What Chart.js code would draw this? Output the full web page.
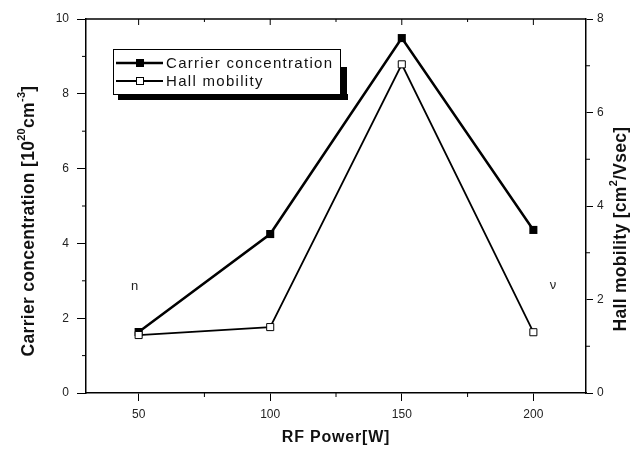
<!DOCTYPE html>
<html><head><meta charset="utf-8">
<script src="https://cdn.jsdelivr.net/npm/chart.js@4/dist/chart.umd.min.js"></script>
<style>html,body{margin:0;padding:0;background:#fff}#wrap{width:644px;height:455px}</style>
</head><body><div id="wrap"><canvas id="c" width="644" height="455"></canvas></div>
<script>
const rfPower = [50, 100, 150, 200];
const carrierConcentration = [1.63, 4.25, 9.49, 4.36];
const hallMobility = [1.24, 1.41, 7.03, 1.30];
const xTicks = [50, 100, 150, 200];
const xMinorTicks = [75, 125, 175];
const leftTicks = [0, 2, 4, 6, 8, 10];
const leftMinorTicks = [1, 3, 5, 7, 9];
const rightTicks = [0, 2, 4, 6, 8];
const rightMinorTicks = [1, 3, 5, 7];
const seriesLabels = ['Carrier concentration', 'Hall mobility'];
const xTitle = 'RF Power[W]';
const leftTitle = [['Carrier concentration [10', 0], ['20', 1], ['cm', 0], ['-3', 1], [']', 0]];
const rightTitle = [['Hall mobility [cm', 0], ['2', 1], ['/Vsec]', 0]];
const strayLabels = [['n', 50, 2.85], ['\u03bd', 209, 2.88]];

const FONT = '"Liberation Sans", Arial, sans-serif';

function drawRich(ctx, parts, size, bold, cx, cy, rot, spacing) {
  ctx.save();
  ctx.translate(cx, cy);
  ctx.rotate(rot);
  const w = (s, sup) => {
    ctx.font = (bold ? 'bold ' : '') + (sup ? Math.round(size * 0.62) : size) + 'px ' + FONT;
    ctx.letterSpacing = spacing + 'px';
    return ctx.measureText(s).width;
  };
  let total = 0;
  parts.forEach(p => total += w(p[0], p[1]));
  let x = -total / 2;
  ctx.fillStyle = '#111';
  ctx.textBaseline = 'middle';
  ctx.textAlign = 'left';
  parts.forEach(p => {
    const ww = w(p[0], p[1]);
    ctx.fillText(p[0], x, p[1] ? -size * 0.42 : 0);
    x += ww;
  });
  ctx.restore();
}

const decor = {
  id: 'decor',
  afterDraw(chart) {
    const ctx = chart.ctx;
    const a = chart.chartArea;
    const sx = chart.scales.x, sy = chart.scales.y, sy1 = chart.scales.y1;
    ctx.save();
    ctx.strokeStyle = '#000';
    ctx.lineWidth = 1.5;
    ctx.beginPath(); ctx.moveTo(a.left, a.top); ctx.lineTo(a.right, a.top); ctx.stroke();
    ctx.lineWidth = 1;
    ctx.beginPath();
    xMinorTicks.forEach(v => { const px = sx.getPixelForValue(v); ctx.moveTo(px, a.bottom); ctx.lineTo(px, a.bottom + 4); ctx.moveTo(px, a.top); ctx.lineTo(px, a.top + 3); });
    xTicks.forEach(v => { const px = sx.getPixelForValue(v); ctx.moveTo(px, a.top); ctx.lineTo(px, a.top + 6); });
    leftMinorTicks.forEach(v => { const py = sy.getPixelForValue(v); ctx.moveTo(a.left, py); ctx.lineTo(a.left - 4, py); });
    rightMinorTicks.forEach(v => { const py = sy1.getPixelForValue(v); ctx.moveTo(a.right, py); ctx.lineTo(a.right + 4, py); });
    ctx.stroke();

    const lx = 113, ly = 49, lw = 227, lh = 45;
    ctx.fillStyle = '#000';
    ctx.fillRect(lx + 5, ly + lh, lw + 3, 6);
    ctx.fillRect(lx + lw, ly + 18, 7, lh - 12);
    ctx.fillStyle = '#fff';
    ctx.fillRect(lx, ly, lw, lh);
    ctx.lineWidth = 1;
    ctx.strokeRect(lx + 0.5, ly + 0.5, lw, lh);
    const rows = [[63, true], [81, false]];
    rows.forEach((r, i) => {
      const y = r[0];
      ctx.lineWidth = i === 0 ? 2.5 : 1.8;
      ctx.beginPath(); ctx.moveTo(116, y); ctx.lineTo(163, y); ctx.stroke();
      if (r[1]) { ctx.fillStyle = '#000'; ctx.fillRect(136, y - 4, 8, 8); }
      else { ctx.fillStyle = '#fff'; ctx.fillRect(136, y - 3.5, 7, 7); ctx.lineWidth = 1; ctx.strokeRect(136.5, y - 3.5, 7, 7); }
      ctx.fillStyle = '#111';
      ctx.font = '15px ' + FONT;
      ctx.letterSpacing = '1.3px';
      ctx.textBaseline = 'middle';
      ctx.textAlign = 'left';
      ctx.fillText(seriesLabels[i], 166, y + 1);
    });
    ctx.letterSpacing = '0px';

    ctx.fillStyle = '#222';
    ctx.font = '13px ' + FONT;
    ctx.textAlign = 'center';
    ctx.textBaseline = 'middle';
    strayLabels.forEach(s => {
      ctx.fillText(s[0], sx.getPixelForValue(s[1]) - 4, sy.getPixelForValue(s[2]));
    });

    drawRich(ctx, [[xTitle, 0]], 16, true, 336, 438, 0, 0.8);
    drawRich(ctx, leftTitle, 17.5, true, 29, 221, -Math.PI / 2, 0.3);
    drawRich(ctx, rightTitle, 17.5, true, 621, 229, -Math.PI / 2, 0.3);
    ctx.restore();
  }
};

const tickFont = { family: FONT, size: 12 };
new Chart(document.getElementById('c'), {
  type: 'line',
  data: {
    datasets: [
      {
        label: seriesLabels[0],
        data: rfPower.map((x, i) => ({ x, y: carrierConcentration[i] })),
        yAxisID: 'y',
        borderColor: '#000', borderWidth: 2.5,
        pointStyle: 'rect', pointRadius: 5.7, pointBackgroundColor: '#000', pointBorderColor: '#000', pointBorderWidth: 0,
        order: 2, tension: 0
      },
      {
        label: seriesLabels[1],
        data: rfPower.map((x, i) => ({ x, y: hallMobility[i] })),
        yAxisID: 'y1',
        borderColor: '#000', borderWidth: 1.8,
        pointStyle: 'rect', pointRadius: 5, pointBackgroundColor: '#fff', pointBorderColor: '#000', pointBorderWidth: 1,
        order: 1, tension: 0
      }
    ]
  },
  options: {
    responsive: false,
    animation: false,
    devicePixelRatio: 1,
    layout: { padding: { top: 19, left: 0, right: 0, bottom: 0 } },
    plugins: { legend: { display: false }, tooltip: { enabled: false } },
    scales: {
      x: {
        type: 'linear', position: 'bottom', min: 30, max: 220,
        afterBuildTicks: s => { s.ticks = xTicks.map(v => ({ value: v })); },
        afterFit: s => { s.height = 62; },
        ticks: { font: tickFont, color: '#222', padding: 6, maxRotation: 0 },
        grid: { drawOnChartArea: false, tickLength: 8, tickColor: '#000', tickWidth: 1 },
        border: { color: '#000', width: 1.5 }
      },
      y: {
        type: 'linear', position: 'left', min: 0, max: 10,
        afterBuildTicks: s => { s.ticks = leftTicks.map(v => ({ value: v })); },
        afterFit: s => { s.width = 86; },
        ticks: { font: tickFont, color: '#222', padding: 8 },
        grid: { drawOnChartArea: false, tickLength: 9, tickColor: '#000', tickWidth: 1 },
        border: { color: '#000', width: 1.5 }
      },
      y1: {
        type: 'linear', position: 'right', min: 0, max: 8,
        afterBuildTicks: s => { s.ticks = rightTicks.map(v => ({ value: v })); },
        afterFit: s => { s.width = 58; },
        ticks: { font: tickFont, color: '#222', padding: 4 },
        grid: { drawOnChartArea: false, tickLength: 7, tickColor: '#000', tickWidth: 1 },
        border: { color: '#000', width: 1.5 }
      }
    }
  },
  plugins: [decor]
});
</script></body></html>
